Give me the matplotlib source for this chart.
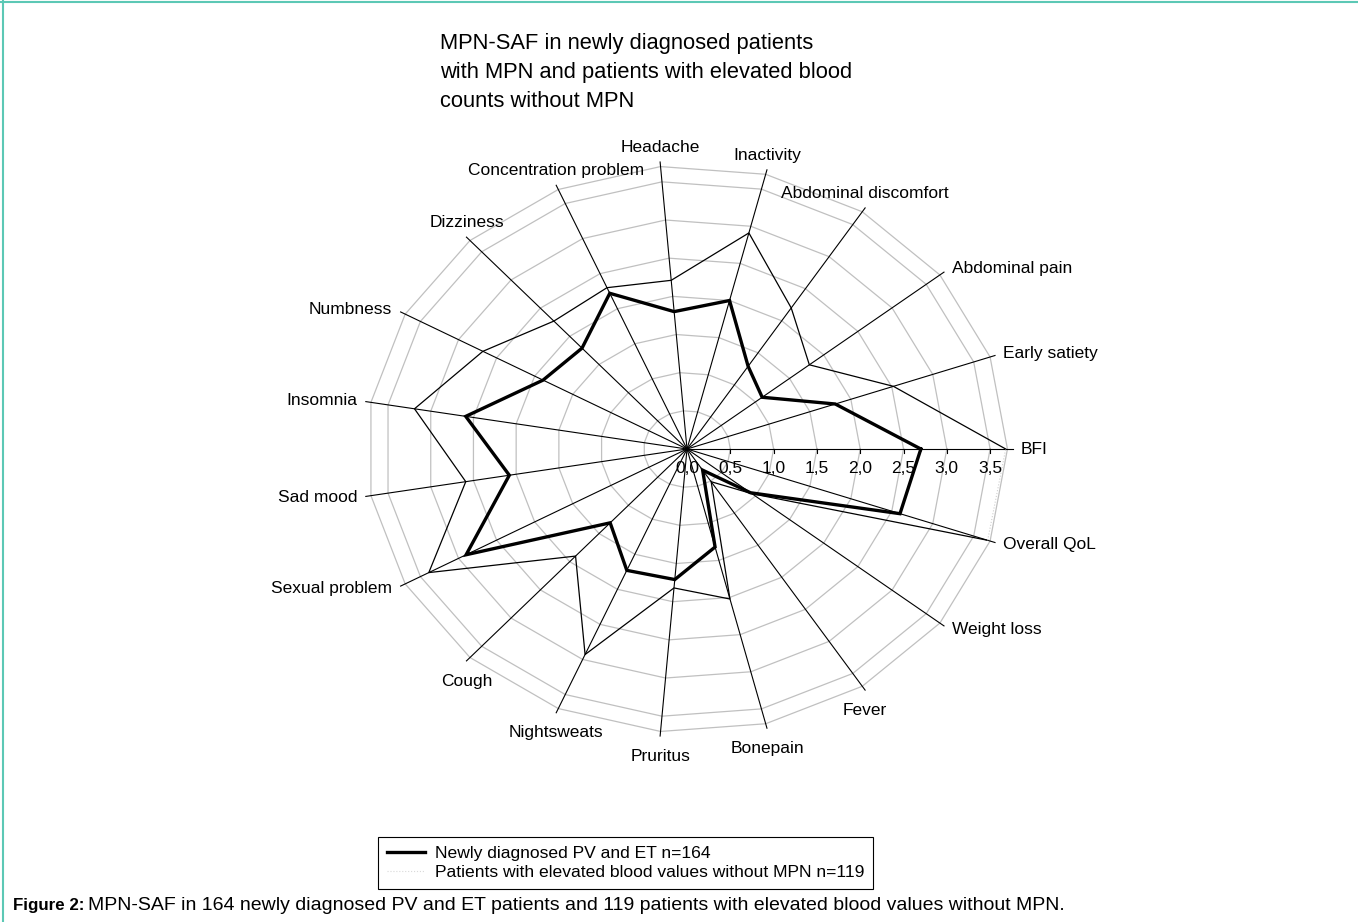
import numpy as np
import matplotlib
matplotlib.use("Agg")
import matplotlib.pyplot as plt
from matplotlib.lines import Line2D

plt.rcParams['font.family'] = ['Liberation Sans', 'DejaVu Sans']

# categories counter-clockwise starting at the right (BFI)
categories = ["BFI", "Early satiety", "Abdominal pain", "Abdominal discomfort",
              "Inactivity", "Headache", "Concentration problem", "Dizziness",
              "Numbness", "Insomnia", "Sad mood", "Sexual problem", "Cough",
              "Nightsweats", "Pruritus", "Bonepain", "Fever", "Weight loss",
              "Overall QoL"]
newly_diagnosed = [2.70, 1.81, 1.10, 1.29, 2.00, 1.80, 2.22, 1.79, 1.89, 2.59,
                   2.08, 2.90, 1.31, 1.73, 1.71, 1.32, 0.33, 0.93, 2.60]
elevated_no_mpn = [3.68, 2.52, 1.79, 2.20, 2.91, 2.21, 2.30, 2.27, 2.68, 3.19,
                   2.59, 3.39, 1.90, 2.93, 1.82, 2.02, 0.51, 0.95, 3.67]
ring_values = [0.5, 1.0, 1.5, 2.0, 2.5, 3.0, 3.5, 3.7]
tick_values = [0.0, 0.5, 1.0, 1.5, 2.0, 2.5, 3.0, 3.5]
tick_labels = ["0,0", "0,5", "1,0", "1,5", "2,0", "2,5", "3,0", "3,5"]
legend_labels = ["Newly diagnosed PV and ET n=164",
                 "Patients with elevated blood values without MPN n=119"]

r_max = 3.76
n = len(categories)
theta = np.arange(n) * 2 * np.pi / n
cs = np.cos(theta)
sn = np.sin(theta)

fig = plt.figure(figsize=(13.58, 9.22), dpi=100)
ax = fig.add_axes([0.2508, 0.1807, 0.5102, 0.6646])
ax.set_xlim(-4, 4)
ax.set_ylim(-4, 4)
ax.axis('off')

# grid rings
for r in ring_values:
    ax.plot(np.append(r * cs, r * cs[0]), np.append(r * sn, r * sn[0]),
            color='#c0c0c0', lw=0.9, zorder=1)

# spokes
for c, s in zip(cs, sn):
    ax.plot([0, r_max * c], [0, r_max * s], color='black', lw=0.8, zorder=2)

# value axis ticks along BFI
for t, lab in zip(tick_values, tick_labels):
    if t > 0:
        ax.plot([t, t], [0, -0.05], color='black', lw=0.8, zorder=2)
    ax.text(t, -0.25, lab, ha='center', va='center', fontsize=12.5)

# series
v1 = np.array(newly_diagnosed)
ax.plot(np.append(v1 * cs, v1[0] * cs[0]), np.append(v1 * sn, v1[0] * sn[0]),
        color='black', lw=2.4, zorder=4, solid_joinstyle='miter')
v2 = np.array(elevated_no_mpn)
ax.plot(v2 * cs, v2 * sn, color='black', lw=0.9, zorder=3)
ax.plot([v2[-1] * cs[-1], v2[0] * cs[0]], [v2[-1] * sn[-1], v2[0] * sn[0]],
        color='#cfcfcf', lw=0.8, ls=':', zorder=3)

# category labels
for lab, c, s in zip(categories, cs, sn):
    if abs(c) > 0.7:
        ha = 'left' if c > 0 else 'right'
        off = (6 if c > 0 else -6, 4 * s)
    else:
        ha = 'center'
        off = (0, 10.5 if s > 0 else -14.5)
    ax.annotate(lab, xy=(r_max * c, r_max * s), xytext=off,
                textcoords='offset points', ha=ha, va='center', fontsize=12.5)

# title
fig.text(440 / 1358, 1 - 33 / 922,
         "MPN-SAF in newly diagnosed patients\nwith MPN and patients with elevated blood\ncounts without MPN",
         fontsize=15.75, ha='left', va='top', linespacing=1.5)

# legend
handles = [Line2D([], [], color='black', lw=2.4),
           Line2D([], [], color='#d9d9d9', lw=0.8, ls=':')]
leg = fig.legend(handles, legend_labels, loc='upper left',
                 bbox_to_anchor=(378 / 1358, 1 - 837 / 922), fontsize=12.6,
                 frameon=True, fancybox=False, edgecolor='black', framealpha=1,
                 borderpad=0.5, handlelength=2.2, handletextpad=0.55,
                 labelspacing=0.2, borderaxespad=0)
leg.get_frame().set_linewidth(0.8)

# caption
bold = fig.text(13 / 1358, 17 / 922, "Figure 2:", fontsize=12.2,
                weight='bold', ha='left', va='center')
fig.canvas.draw()
bb = bold.get_window_extent()
fig.text((bb.x1 + 4) / 1358, 17 / 922,
         "MPN-SAF in 164 newly diagnosed PV and ET patients and 119 patients with elevated blood values without MPN.",
         fontsize=14.0, ha='left', va='center')

# frame lines
fig.add_artist(Line2D([0.002, 0.002], [0, 1], transform=fig.transFigure,
                      color='#5cc8b5', lw=1.5))
fig.add_artist(Line2D([0, 1], [0.998, 0.998], transform=fig.transFigure,
                      color='#5cc8b5', lw=1.5))

fig.savefig('out.png', dpi=100)
